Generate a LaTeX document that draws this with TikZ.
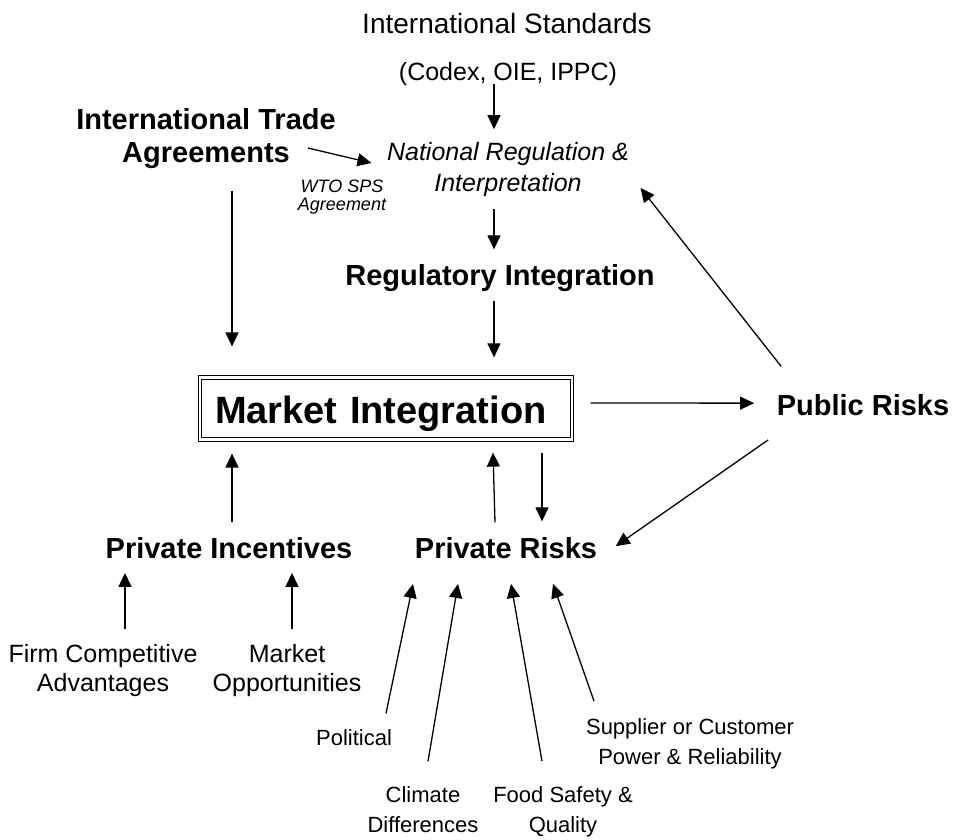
\documentclass[tikz,border=0pt]{standalone}
\usepackage{fontspec}
\setmainfont{Liberation Sans}
\usetikzlibrary{arrows.meta}

\begin{document}
\begin{tikzpicture}[x=1pt,y=-1pt,line width=1.3pt,
        >={Triangle[length=14pt,width=13pt]},
        every node/.style={inner sep=0pt,align=center},
        title/.style={font=\fontsize{29}{33}\selectfont\bfseries},
        plain/.style={font=\fontsize{25}{29}\selectfont},
        small/.style={font=\fontsize{22}{30}\selectfont},
        regtext/.style={font=\fontsize{25}{31}\selectfont\itshape},
        note/.style={font=\fontsize{18}{18}\selectfont\itshape},
        mainbox/.style={draw,double,line width=1.2pt,double distance=2.3pt,
            minimum width=372pt,minimum height=62pt,text width=342pt,
            inner xsep=15pt,align=left,text height=30pt,text depth=1pt,
            font=\fontsize{38}{40}\selectfont\bfseries}]
        \useasboundingbox (0,0) rectangle (963,839);

        \node[font=\fontsize{28}{33}\selectfont,anchor=base] (intstd) at (507,33) {International Standards};
        \node[plain,anchor=base] (codex) at (508,80) {(Codex, OIE, IPPC)};
        \node[title] (ita) at (206,139) {International Trade\\Agreements};
        \node[note] (wto) at (342,197) {WTO SPS\\Agreement};
        \node[regtext] (nri) at (508,170) {National Regulation \&\\Interpretation};
        \node[title,anchor=base] (ri) at (500,285) {Regulatory Integration};
        \node[mainbox] (mi) at (386,408.5) {Market Integration};
        \node[title,anchor=base] (pr) at (863,415) {Public Risks};
        \node[title,anchor=base] (pi) at (229,558) {Private Incentives};
        \node[title,anchor=base] (prisk) at (506,558) {Private Risks};
        \node[plain] (firm) at (103,671) {Firm Competitive\\Advantages};
        \node[plain] (mopp) at (287,671) {Market\\Opportunities};
        \node[small,anchor=base] (pol) at (354,745) {Political};
        \node[small] (clim) at (423,810) {Climate\\Differences};
        \node[small] (food) at (563,812) {Food Safety \&\\Quality};
        \node[small] (supp) at (690,744) {Supplier or Customer\\Power \& Reliability};

        \draw[->] ([shift={(-14,-2)}]codex.south) -- ([shift={(-14,-13)}]nri.north);
        \draw[->] ([shift={(-28.5,9)}]ita.east) -- ([shift={(-15,-7)}]nri.west);
        \draw[->] ([shift={(26,21)}]ita.south) -- ([shift={(-154,-30.5)}]mi.north);
        \draw[->] ([shift={(-14,11)}]nri.south) -- ([shift={(-6,-14)}]ri.north);
        \draw[->] ([shift={(-6,9)}]ri.south) -- ([shift={(108,-19.5)}]mi.north);
        \draw[->] ([shift={(18,-5.5)}]mi.east) -- ([shift={(-22,-1.5)}]pr.west);
        \draw[->] ([shift={(5,-27)}]pr.north west) -- ([shift={(11,18)}]nri.east);
        \draw[->] ([shift={(-8,24)}]pr.south west) -- ([shift={(18,-1.5)}]prisk.east);
        \draw[->] ([shift={(-11,-14)}]prisk.north) -- ([shift={(107,12.5)}]mi.south);
        \draw[->] ([shift={(156,12.5)}]mi.south) -- ([shift={(36,-15)}]prisk.north);
        \draw[->] ([shift={(3,-14)}]pi.north) -- ([shift={(-154,13.5)}]mi.south);
        \draw[->] ([shift={(22,-15)}]firm.north) -- ([shift={(-104,14)}]pi.south);
        \draw[->] ([shift={(5,-15)}]mopp.north) -- ([shift={(63,14)}]pi.south);
        \draw[->] ([shift={(32,-15)}]pol.north) -- ([shift={(-93,25)}]prisk.south);
        \draw[->] ([shift={(5,-25)}]clim.north) -- ([shift={(-48,25)}]prisk.south);
        \draw[->] ([shift={(-21,-25)}]food.north) -- ([shift={(5,25)}]prisk.south);
        \draw[->] ([shift={(-96,-17)}]supp.north) -- ([shift={(47,25)}]prisk.south);
\end{tikzpicture}
\end{document}
